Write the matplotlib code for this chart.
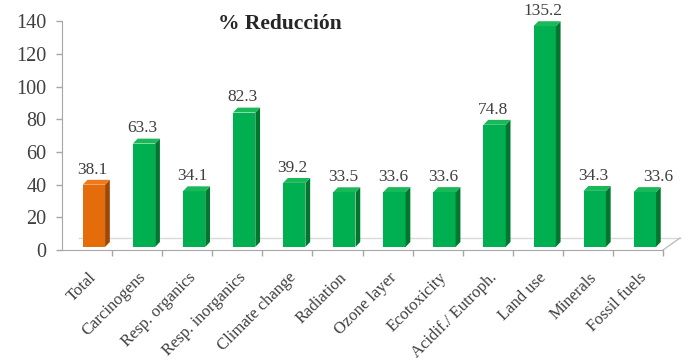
import matplotlib
matplotlib.use("Agg")
import matplotlib.pyplot as plt
from matplotlib.patches import Polygon
from matplotlib.lines import Line2D
import matplotlib.transforms as mtransforms

categories = ["Total", "Carcinogens", "Resp. organics", "Resp. inorganics",
              "Climate change", "Radiation", "Ozone layer", "Ecotoxicity",
              "Acidif./ Eutroph.", "Land use", "Minerals", "Fossil fuels"]
values = [38.1, 63.3, 34.1, 82.3, 39.2, 33.5, 33.6, 33.6, 74.8, 135.2, 34.3, 33.6]
y_ticks = [0, 20, 40, 60, 80, 100, 120, 140]
title_text = "% Reducción"

plt.rcParams['font.family'] = ['Liberation Serif', 'DejaVu Serif']

W, H = 694, 362
fig = plt.figure(figsize=(W / 100, H / 100), dpi=100)
ax = fig.add_axes([62 / W, 112 / H, (663 - 62) / W, (250 - 21.4) / H])
n = len(categories)
ax.set_xlim(0, n)
ax.set_ylim(0, 140)

# style
front_green, side_green, top_green = "#00B050", "#00772F", "#19B95A"
front_orng, side_orng, top_orng = "#E46C0A", "#9E4807", "#EE7A1E"
base = 1.9      # bar lift (3-D depth placement)
dx, dy = 0.095, 3.0
x0, x1 = 0.415, 0.86

# floor (back edge and right diagonal)
floor_col = "#D9D9D9"
off = mtransforms.offset_copy(ax.transData, fig=fig, x=17, y=12, units='dots')
ax.add_line(Line2D([0, n], [0, 0], transform=off, color=floor_col, lw=1.0,
                   clip_on=False, zorder=1))
p_a = ax.transData.transform((n, 0))
ax.add_line(Line2D([p_a[0], p_a[0] + 17], [p_a[1], p_a[1] + 12], transform=None,
                   color="#BFBFBF", lw=1.0, clip_on=False, zorder=1))

for i, v in enumerate(values):
    if i == 0:
        fc, sc, tc = front_orng, side_orng, top_orng
    else:
        fc, sc, tc = front_green, side_green, top_green
    L, R = i + x0, i + x1
    b, t = base, v + base
    front = Polygon([(L, b), (R, b), (R, t), (L, t)], closed=True, fc=fc, ec='none', zorder=3)
    side = Polygon([(R, b), (R + dx, b + dy), (R + dx, t + dy), (R, t)], closed=True,
                   fc=sc, ec='none', zorder=3)
    top = Polygon([(L, t), (R, t), (R + dx, t + dy), (L + dx, t + dy)], closed=True,
                  fc=tc, ec='none', zorder=3)
    for p in (front, side, top):
        p.set_clip_on(False)
        ax.add_patch(p)

label_dx = {"Fossil fuels": 15}
for i, (c, v) in enumerate(zip(categories, values)):
    cx = i + (x0 + x1) / 2 - 0.03
    ax.annotate(f"{v:.1f}", xy=(cx, v + base + dy), xytext=(label_dx.get(c, 0) * 0.72, 4.5),
                textcoords="offset points", ha="center", va="baseline",
                fontsize=12.5, color="#404040", annotation_clip=False, zorder=5)

# axes styling
for s in ("top", "right"):
    ax.spines[s].set_visible(False)
ax.spines["left"].set_color("#A6A6A6")
ax.spines["bottom"].set_color("#A6A6A6")
ax.spines["left"].set_zorder(2)
ax.set_yticks(y_ticks)
ax.set_yticklabels([str(t) for t in y_ticks], fontsize=14.5, color="#404040")
ax.tick_params(axis="y", direction="out", length=4, width=1, color="#A6A6A6", pad=7)

ax.set_xticks([i + 0.52 for i in range(n)])
ax.set_xticklabels(categories, rotation=45, ha="right", va="top",
                   rotation_mode="anchor", fontsize=12, color="#404040")
ax.tick_params(axis="x", which="major", length=0, pad=14)
ax.set_xticks(list(range(1, n + 1)), minor=True)
ax.tick_params(axis="x", which="minor", direction="out", length=4, width=1, color="#A6A6A6")

fig.text(280 / W, 1 - 24 / H, title_text, ha="center", va="center",
         fontsize=15.5, fontweight="bold", color="#262626")

fig.savefig("out.png", dpi=100)
